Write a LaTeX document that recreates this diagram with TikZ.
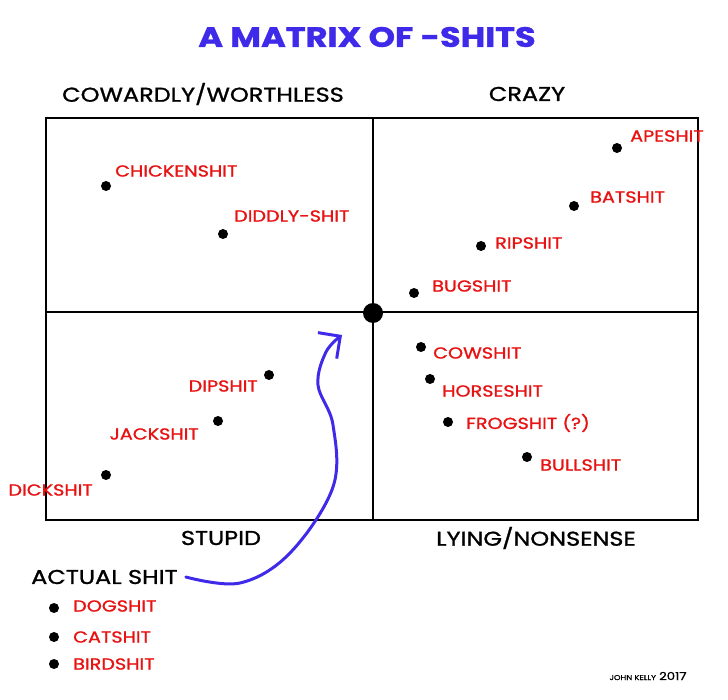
\documentclass[tikz,border=0pt]{standalone}
\usepackage{fontspec}
\setmainfont{Poppins}[FakeStretch=1.2, FakeBold=1.2]
\usetikzlibrary{arrows.meta}

\definecolor{penblue}{RGB}{62,42,232}
\definecolor{penred}{RGB}{232,18,18}

\begin{document}
\begin{tikzpicture}[
    x=1pt, y=-1pt,
    dot/.style={circle, fill, inner sep=0pt, minimum size=10pt},
    tag/.style={text=penred, font=\fontsize{16}{18}\selectfont, inner sep=0pt, anchor=west},
    head/.style={font=\fontsize{20}{24}\selectfont, inner sep=0pt},
    pen/.style={penblue, line width=3pt, line cap=round, line join=round}
  ]
  \useasboundingbox (0,0) rectangle (728,700);

  % ---- title ----
  \node[font=\fontsize{28}{32}\selectfont\bfseries, text=penblue, inner sep=0pt] (title) at (367,37) {A MATRIX OF -SHITS};

  % ---- matrix ----
  \draw[line width=2pt] (46,118) rectangle (698,520);
  \draw[line width=2pt] (373,118) -- (373,520);
  \draw[line width=2pt] (46,312) -- (698,312);
  \node[circle, fill, inner sep=0pt, minimum size=20pt] (mid) at (373,313) {};

  % Axis labels
  \node[head] (cow)   at (203,94)  {COWARDLY/WORTHLESS};
  \node[head] (crazy) at (527,94)  {CRAZY};
  \node[head] (stu)   at (221,538) {STUPID};
  \node[head] (lie)   at (536,538) {LYING/NONSENSE};

  % Top left
  \node[dot] (chk) at (106,186) {};
  \node[tag] (chkl) at (115,171) {CHICKENSHIT};
  \node[dot] (did) at (223,234) {};
  \node[tag] (didl) at (234,216) {DIDDLY-SHIT};

  % Top right
  \node[dot] (ape) at (617,148) {};
  \node[tag] (apel) at (630,136) {APESHIT};
  \node[dot] (bat) at (574,206) {};
  \node[tag] (batl) at (590,197) {BATSHIT};
  \node[dot] (rip) at (481,246) {};
  \node[tag] (ripl) at (495,243) {RIPSHIT};
  \node[dot] (bug) at (414,293) {};
  \node[tag] (bugl) at (432,286) {BUGSHIT};

  % Bottom right
  \node[dot] (cws) at (421,347) {};
  \node[tag] (cwsl) at (433,353) {COWSHIT};
  \node[dot] (hrs) at (430,379) {};
  \node[tag] (hrsl) at (442,391) {HORSESHIT};
  \node[dot] (frg) at (448,422) {};
  \node[tag] (frgl) at (466,423) {FROGSHIT (?)};
  \node[dot] (bul) at (527,457) {};
  \node[tag] (bull) at (540,465) {BULLSHIT};

  % Bottom left
  \node[dot] (dip) at (269,375) {};
  \node[tag, anchor=east] (dipl) at (258,386) {DIPSHIT};
  \node[dot] (jck) at (218,421) {};
  \node[tag, anchor=east] (jckl) at (199,434) {JACKSHIT};
  \node[dot] (dck) at (106,475) {};
  \node[tag, anchor=east] (dckl) at (93,490) {DICKSHIT};

  % ---- actual shit ----
  \node[head, anchor=west] (act) at (31,577) {ACTUAL SHIT};
  \node[dot] (dog) at (54,608) {};
  \node[tag] (dogl) at (73,606) {DOGSHIT};
  \node[dot] (cat) at (54,637) {};
  \node[tag] (catl) at (73,637) {CATSHIT};
  \node[dot] (brd) at (54,664) {};
  \node[tag] (brdl) at (73,664) {BIRDSHIT};

  % Arrow
  \coordinate (tip) at (342,335);
  \draw[pen, -{Straight Barb[length=16pt, width=32pt, line width=3pt]}]
    plot[smooth, tension=0.6] coordinates {([xshift=8pt]act.east) (240,583) (290,553) (333,487) (333,425) (318,385) (326,352) (tip)};

  % Credit
  \node[inner sep=0pt] (credit) at (648,676) {{\fontsize{7}{8}\selectfont JOHN KELLY} {\fontsize{11}{12}\selectfont 2017}};
\end{tikzpicture}
\end{document}
